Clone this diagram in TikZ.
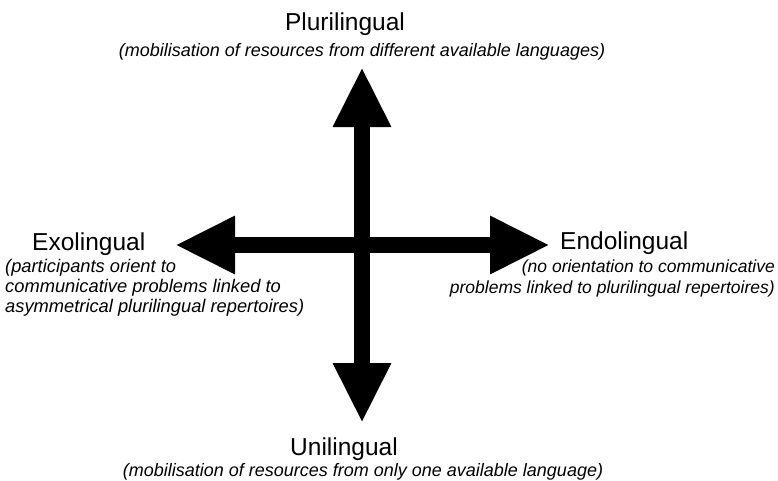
\documentclass[tikz,border=0pt]{standalone}
\usepackage{fontspec}
\setmainfont{Liberation Sans}
\usetikzlibrary{arrows.meta,positioning}

\begin{document}
\begin{tikzpicture}[x=1pt,y=-1pt,line join=miter,
bigarrow/.style={line width=16pt,-{Triangle[length=60pt,width=54pt]}},
pole/.style={inner sep=0pt,font=\fontsize{24.5}{28}\selectfont},
gloss/.style={inner sep=0pt,font=\fontsize{18}{20}\selectfont\itshape}]
\useasboundingbox (0,0) rectangle (778,480);
\coordinate (c) at (362,245);
\coordinate (n) at (362,67);
\coordinate (s) at (362,423);
\coordinate (w) at (175,245);
\coordinate (e) at (550,245);
\draw[bigarrow] (c) -- (n);
\draw[bigarrow] (c) -- (s);
\draw[bigarrow] (c) -- (w);
\draw[bigarrow] (c) -- (e);
\node[pole,anchor=base] (plu) at (345,30) {Plurilingual};
\node[gloss,anchor=base] (plugloss) at (362,56) {(mobilisation of resources from different available languages)};
\node[pole,anchor=base] (uni) at (344,455) {Unilingual};
\node[gloss,anchor=base] (unigloss) at (363,476) {(mobilisation of resources from only one available language)};
\node[pole,anchor=base west] (exo) at (32,250) {Exolingual};
\node[gloss,anchor=north west,align=left,font=\fontsize{18.3}{20}\selectfont\itshape] (exogloss) at (5,259) {(participants orient to\\communicative problems linked to\\asymmetrical plurilingual repertoires)};
\node[pole,anchor=base west] (endo) at (560,249) {Endolingual};
\node[gloss,anchor=north east,align=right,font=\fontsize{17.5}{21}\selectfont\itshape] (endogloss) at (775,260) {(no orientation to communicative\\problems linked to plurilingual repertoires)};
\end{tikzpicture}
\end{document}
